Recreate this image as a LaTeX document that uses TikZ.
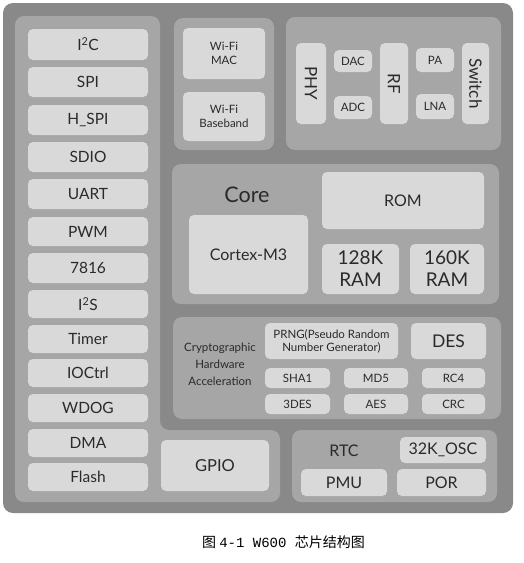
\documentclass[tikz,border=0pt]{standalone}
\usepackage{fontspec}
\setmainfont{Lato}
\newfontfamily\cjk{Noto Sans CJK SC}
\newfontfamily\capmono{Liberation Mono}
\definecolor{outerc}{HTML}{898989}
\definecolor{panelc}{HTML}{A6A6A6}
\definecolor{boxc}{HTML}{D9D9D9}
\definecolor{txtc}{HTML}{2A2A2A}
\newcommand{\fs}[1]{\fontsize{#1}{#1}\selectfont}
\tikzset{
  bx/.style={fill=boxc, rounded corners=5pt, inner sep=0pt, text=txtc, align=center},
  pnl/.style={fill=panelc, rounded corners=9pt},
  lbl/.style={inner sep=0pt, text=txtc, align=center}
}
% name, x1, y1, x2, y2, size, text
\newcommand{\bxn}[7]{\node[bx,font=\fs{#6},minimum width={(#4-#2)*1pt},minimum height={(#5-#3)*1pt}] (#1) at ({(#2+#4)/2},{(#3+#5)/2}) {#7};}
\newcommand{\bxr}[7]{\node[bx,font=\fs{#6},rotate=-90,minimum height={(#4-#2)*1pt},minimum width={(#5-#3)*1pt}] (#1) at ({(#2+#4)/2},{(#3+#5)/2}) {#7};}
\begin{document}
\begin{tikzpicture}[x=1pt,y=-1pt]
\useasboundingbox (0,0) rectangle (524,563);
\fill[white] (0,0) rectangle (524,563);
% outer
\fill[outerc, rounded corners=10pt] (3,3) rectangle (513,513);
% panels
\fill[pnl] (15,16) -- (160,16) -- (160,430) -- (280,430) -- (280,502) -- (15,502) -- cycle;
\fill[pnl] (174,18) rectangle (274,150);
\fill[pnl] (286,17) rectangle (501,150);
\fill[pnl] (172,164) rectangle (499,304);
\fill[pnl] (173,317) rectangle (501,419);
\fill[pnl] (292,430) rectangle (497,502);
% left column
\bxn{i2c}{28}{29}{148}{60}{15.5}{I\textsuperscript{2}C}
\bxn{spi}{28}{67}{148}{97}{15.5}{SPI}
\bxn{hspi}{28}{105}{148}{135}{15.5}{H\_SPI}
\bxn{sdio}{28}{142}{148}{172}{15.5}{SDIO}
\bxn{uart}{28}{179}{148}{209}{15.5}{UART}
\bxn{pwm}{28}{217}{148}{246}{15.5}{PWM}
\bxn{isoi}{28}{253}{148}{283}{15.5}{7816}
\bxn{i2s}{28}{290}{148}{318}{15.5}{I\textsuperscript{2}S}
\bxn{timer}{28}{325}{148}{353}{15.5}{Timer}
\bxn{ioctrl}{28}{359}{148}{387}{15.5}{IOCtrl}
\bxn{wdog}{28}{394}{148}{422}{15.5}{WDOG}
\bxn{dma}{28}{429}{148}{457}{15.5}{DMA}
\bxn{flash}{28}{463}{148}{491}{15.5}{Flash}
\bxn{gpio}{161}{440}{269}{491}{16.5}{GPIO}
% wifi
\bxn{wmac}{183}{28}{265}{79}{11.5}{Wi-Fi\\[2.5pt]MAC}
\bxn{wbb}{183}{92}{265}{141}{11.5}{Wi-Fi\\[2.5pt]Baseband}
% RF panel
\bxr{phy}{296}{43}{326}{124}{17}{PHY}
\bxn{dac}{334}{50}{372}{72}{11.5}{DAC}
\bxn{adc}{334}{96}{372}{119}{11.5}{ADC}
\bxr{rf}{380}{43}{408}{124}{17}{RF}
\bxn{pa}{416}{48}{454}{72}{11.5}{PA}
\bxn{lna}{416}{94}{454}{119}{11.5}{LNA}
\bxr{sw}{462}{43}{489}{124}{17}{Switch}
% core
\node[lbl,font=\fs{21.5}] (core) at (247,195) {Core};
\bxn{cm3}{189}{215}{308}{294}{16}{Cortex-M3}
\bxn{rom}{322}{172}{484}{229}{16}{ROM}
\bxn{ramA}{322}{244}{399}{294}{19}{128K\\[3pt]RAM}
\bxn{ramB}{410}{244}{484}{294}{19}{160K\\[3pt]RAM}
% crypto
\node[lbl,font=\fs{11.5}] (crypt) at (220,364) {Cryptographic\\[5.5pt]Hardware\\[5.5pt]Acceleration};
\bxn{prng}{265}{323}{398}{359}{11.5}{PRNG(Pseudo Random\\[1.5pt]Number Generator)}
\bxn{des}{411}{323}{486}{359}{17.5}{DES}
\bxn{sha}{265}{368}{330}{388}{11.5}{SHA1}
\bxn{md5}{344}{368}{408}{388}{11.5}{MD5}
\bxn{rc4}{422}{368}{485}{388}{11.5}{RC4}
\bxn{tdes}{265}{394}{330}{414}{11.5}{3DES}
\bxn{aes}{344}{394}{408}{414}{11.5}{AES}
\bxn{crc}{422}{394}{485}{414}{11.5}{CRC}
% bottom right
\node[lbl,font=\fs{16}] (rtc) at (344,451) {RTC};
\bxn{osc}{400}{437}{486}{463}{16}{32K\_OSC}
\bxn{pmu}{301}{469}{387}{496}{16}{PMU}
\bxn{por}{397}{469}{486}{496}{16}{POR}
% caption
\node[inner sep=0pt, text=black, font=\fs{14}] (cap) at (283.5,542) {\cjk 图\ \capmono 4-1 W600\ \cjk 芯片结构图};
\end{tikzpicture}
\end{document}
